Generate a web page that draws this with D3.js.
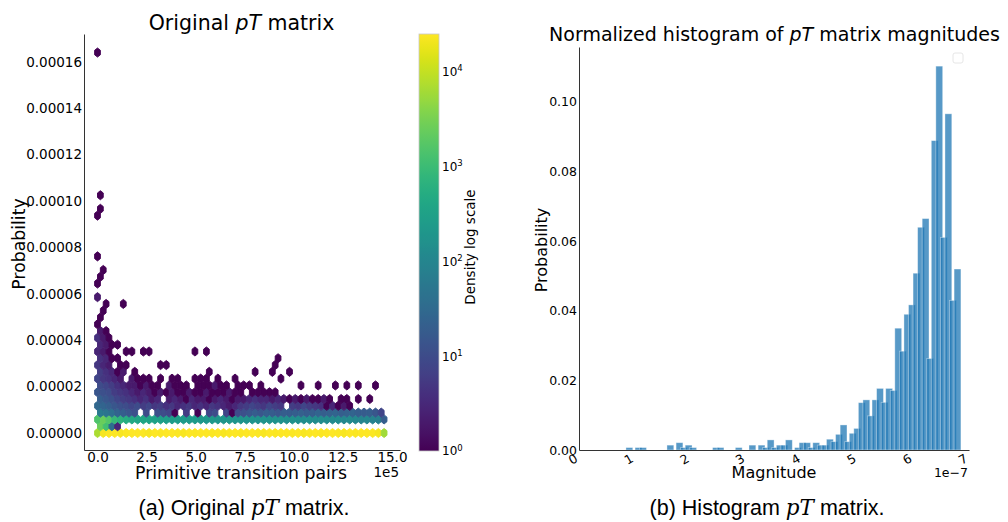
<!DOCTYPE html>
<html>
<head>
<meta charset="utf-8">
<script src="https://cdn.jsdelivr.net/npm/d3@7"></script>
<style>
  body { margin: 0; background: #fff; }
  svg text { font-family: "DejaVu Sans", sans-serif; fill: #000; }
  .cap { font-family: "Liberation Sans", Arial, sans-serif; }
  .capmath { font-family: "DejaVu Serif", "Liberation Serif", serif; font-style: italic; }
</style>
</head>
<body>
<svg id="fig" width="1008" height="522"></svg>
<script>
// ---------- (a) hexbin of transition-pair probabilities ----------
const hexGridX = 50;            // hexagons across
const hexGridY = 28;            // hexagon rows (per lattice)
const hexXMax = 1.46e6;         // largest transition-pair index
const hexYMax = 0.000164;       // largest probability
const colorMax = 25000;         // top of the density colour bar

// Counts for the lower hex rows; row k alternates between the two hex lattices
const hexRow0 = [7000, 22000, 24000, 25000, 23000, 24000, 25000, 26000, 24000, 23000,
  25000, 24000, 26000, 25000, 24000, 23000, 25000, 24000, 25000, 26000,
  24000, 25000, 23000, 24000, 25000, 24000, 26000, 25000, 24000, 23000,
  25000, 24000, 25000, 26000, 24000, 25000, 23000, 24000, 25000, 24000,
  26000, 25000, 24000, 23000, 25000, 24000, 25000, 26000, 24000, 22000, 6000];
const hexRow1 = [2500, 1200, 40, 3];
const hexRow2 = [1500, 2500, 1600, 900, 700, 550, 450, 400, 380, 350,
  320, 300, 280, 260, 270, 250, 240, 250, 230, 220,
  230, 210, 200, 210, 190, 200, 180, 190, 170, 180,
  170, 160, 170, 150, 160, 150, 140, 150, 130, 140,
  130, 120, 130, 110, 120, 110, 100, 110, 90, 80, 20];
const hexRow3 = [60, 50, 40, 25, 20, 15, 12, 0, 10, 0,
  12, 10, 8, 1, 0, 6, 0, 1, 0, 8,
  10, 0, 8, 1, 10, 12, 15, 18, 15, 20,
  18, 15, 20, 18, 20, 22, 18, 20, 25, 20,
  22, 25, 20, 22, 25, 20, 18, 20, 15, 8];
const hexRow4 = [30, 25, 20, 15, 12, 10, 8, 10, 6, 8,
  5, 6, 4, 5, 3, 4, 5, 3, 4, 3,
  5, 4, 3, 2, 3, 5, 6, 8, 6, 5,
  8, 6, 5, 0, 6, 5, 8, 6, 5, 4,
  1, 3, 1, 2, 1];
const hexRow5 = [20, 15, 12, 8, 6, 5, 4, 3, 4, 2,
  3, 0, 2, 3, 2, 1, 3, 2, 2, 1,
  2, 3, 2, 1, 2, 2, 3, 4, 3, 3,
  2, 3, 2, 1, 2, 1, 2, 1, 1, 2,
  1, 0, 1, 1, 0, 1, 0, 1];
const hexRow6 = [15, 12, 10, 6, 5, 4, 3, 2, 3, 2,
  1, 2, 1, 2, 1, 1, 2, 1, 1, 2,
  1, 1, 1, 2, 1, 1, 0, 1, 1, 1,
  1, 1];
const hexRow7 = [10, 8, 6, 4, 3, 2, 2, 1, 2, 1,
  1, 0, 2, 1, 1, 1, 0, 1, 1, 1,
  2, 1, 1, 0, 1, 1, 1, 0, 1, 0,
  0, 0, 0, 0, 0, 1, 0, 0, 1, 0,
  0, 1, 0, 1, 0, 1, 0, 0, 1];
const hexDenseRows = [hexRow0, hexRow1, hexRow2, hexRow3, hexRow4, hexRow5, hexRow6, hexRow7];

// Sparse upper cells: [row k, column i, count]
const hexSparseCells = [
  [8,0,8],[8,1,5],[8,2,4],[8,3,3],[8,4,2],[8,6,2],[8,7,1],[8,8,1],[8,9,1],[8,11,1],[8,13,1],
  [8,14,1],[8,17,1],[8,18,1],[8,19,1],[8,21,1],[8,24,1],[8,32,1],
  [9,0,6],[9,1,4],[9,2,3],[9,3,1],[9,4,2],[9,6,1],[9,19,1],[9,27,1],[9,30,1],[9,33,1],
  [10,0,5],[10,1,3],[10,2,2],[10,4,1],[10,5,1],[10,11,1],[10,12,1],[10,31,1],
  [11,0,4],[11,1,3],[11,2,1],[11,3,1],[11,31,1],
  [12,0,3],[12,1,2],[12,2,1],[12,5,1],[12,6,1],[12,8,1],[12,9,1],[12,17,1],[12,19,1],
  [13,0,3],[13,1,2],[13,2,1],[13,3,1],
  [14,0,4],[14,1,2],[14,2,1],
  [15,0,2],[15,1,1],
  [16,0,1],[17,0,1],[18,1,1],[19,1,1],[19,4,1],[20,0,2],
  [22,0,1],[23,0,1],[24,1,1],[26,0,1],[32,0,1],[33,0,1],[35,0,1],[56,0,1]
];

const hexXTicks = [0, 2.5e5, 5e5, 7.5e5, 10e5, 12.5e5, 15e5];
const hexXTickLabels = ["0.0", "2.5", "5.0", "7.5", "10.0", "12.5", "15.0"];
const hexYTicks = [0, 2e-5, 4e-5, 6e-5, 8e-5, 1e-4, 1.2e-4, 1.4e-4, 1.6e-4];
const hexYTickLabels = ["0.00000", "0.00002", "0.00004", "0.00006", "0.00008",
  "0.00010", "0.00012", "0.00014", "0.00016"];
const colorTicks = [1, 10, 100, 1000, 10000];
const colorTickExponents = ["0", "1", "2", "3", "4"];

// ---------- (b) normalized histogram of magnitudes (units of 1e-7) ----------
const magnitudeBinStart = 0.904;
const magnitudeBinWidth = 0.0818;
const magnitudeProbabilities = [
  0.0007, 0, 0.0007, 0.0007, 0, 0, 0, 0, 0, 0.0014,
  0, 0.0021, 0.0007, 0.0014, 0.0007, 0, 0, 0, 0, 0.0007,
  0.0007, 0, 0, 0, 0.0007, 0, 0, 0.0014, 0, 0.0014,
  0.0007, 0.0029, 0.0007, 0.0014, 0.0014, 0.0029, 0, 0.0007, 0.0021, 0.0021,
  0.0007, 0.0021, 0.0014, 0.0014, 0.0031, 0.0024, 0.0045, 0.0072, 0.0024, 0.0048,
  0.0062, 0.0136, 0.0144, 0.0098, 0.0144, 0.0177, 0.0137, 0.0177, 0.0171, 0.0350,
  0.0284, 0.0390, 0.0417, 0.0508, 0.0640, 0.0665, 0.0263, 0.0889, 0.1103, 0.0611,
  0.0966, 0.0430, 0.0520
];
const histXTicks = [0, 1, 2, 3, 4, 5, 6, 7];
const histYTicks = [0, 0.02, 0.04, 0.06, 0.08, 0.10];
const histYTickLabels = ["0.00", "0.02", "0.04", "0.06", "0.08", "0.10"];

const svg = d3.select("#fig");
const axisColor = "#333";

// ================= panel (a) =================
const xL = d3.scaleLinear().domain([-0.688e5, 15.41e5]).range([84, 400]);
const yL = d3.scaleLinear().domain([-7.33e-6, 1.72e-4]).range([450, 34]);
const color = d3.scaleSequentialLog(d3.interpolateViridis).domain([1, colorMax]).clamp(true);

const sx = hexXMax / hexGridX;
const sy = hexYMax / hexGridY;
const hexUnit = [[.5, -.5], [.5, .5], [0, 1], [-.5, .5], [-.5, -.5], [0, -1]];

const cells = [];
hexDenseRows.forEach((row, k) => row.forEach((c, i) => { if (c > 0) cells.push([k, i, c]); }));
hexSparseCells.forEach(d => cells.push(d));

function hexPath(k, i) {
  const cx = (k % 2 ? i + 0.5 : i) * sx;
  const cy = k * sy / 2;
  const pts = hexUnit.map(([a, b]) => [xL(cx + a * sx), yL(cy + b * sy / 3)]);
  return "M" + pts.map(p => p[0].toFixed(2) + "," + p[1].toFixed(2)).join("L") + "Z";
}

svg.append("g").selectAll("path").data(cells).join("path")
  .attr("d", d => hexPath(d[0], d[1]))
  .attr("fill", d => color(d[2]))
  .attr("stroke", d => color(d[2]))
  .attr("stroke-width", 0.95)
  .attr("stroke-linejoin", "round");

const gxL = svg.append("g").attr("transform", "translate(0,450)")
  .call(d3.axisBottom(xL).tickValues(hexXTicks).tickFormat((d, i) => hexXTickLabels[i])
    .tickSize(0).tickSizeOuter(0).tickPadding(2));
const gyL = svg.append("g").attr("transform", "translate(84,0)")
  .call(d3.axisLeft(yL).tickValues(hexYTicks).tickFormat((d, i) => hexYTickLabels[i])
    .tickSize(0).tickSizeOuter(0).tickPadding(2));
[gxL, gyL].forEach(g => {
  g.select(".domain").attr("stroke", axisColor).attr("stroke-width", 1);
  g.selectAll("text").attr("font-size", 13.5).attr("font-family", "DejaVu Sans").attr("fill", "#000");
});

svg.append("text").attr("x", 241.5).attr("y", 30).attr("text-anchor", "middle")
  .attr("font-size", 20.5)
  .call(t => { t.append("tspan").text("Original ");
               t.append("tspan").attr("font-style", "italic").text("pT");
               t.append("tspan").text(" matrix"); });
svg.append("text").attr("x", 241).attr("y", 479).attr("text-anchor", "middle")
  .attr("font-size", 17.3).text("Primitive transition pairs");
svg.append("text").attr("x", 399).attr("y", 477).attr("text-anchor", "end")
  .attr("font-size", 13.5).text("1e5");
svg.append("text").attr("transform", "translate(24.5,244) rotate(-90)").attr("text-anchor", "middle")
  .attr("font-size", 17.3).text("Probability");

// colour bar
const cbX = 419, cbW = 20;
const yC = d3.scaleLog().domain([1, colorMax]).range([451, 34]);
const grad = svg.append("defs").append("linearGradient").attr("id", "viridisBar")
  .attr("x1", 0).attr("y1", 1).attr("x2", 0).attr("y2", 0);
d3.range(0, 1.0001, 0.02).forEach(t => grad.append("stop")
  .attr("offset", t).attr("stop-color", d3.interpolateViridis(t)));
svg.append("rect").attr("x", cbX).attr("y", yC(colorMax)).attr("width", cbW)
  .attr("height", yC(1) - yC(colorMax)).attr("fill", "url(#viridisBar)")
  .attr("stroke", "#c8c8c8").attr("stroke-width", 0.8);
const gC = svg.append("g").attr("transform", `translate(${cbX + cbW},0)`)
  .call(d3.axisRight(yC).tickValues(colorTicks).tickSize(0).tickPadding(3));
gC.select(".domain").remove();
gC.selectAll(".tick text").each(function (d, i) {
  const t = d3.select(this).text(null).attr("font-size", 12).attr("fill", "#000")
    .attr("font-family", "DejaVu Sans");
  t.append("tspan").text("10");
  t.append("tspan").attr("font-size", 8.5).attr("dy", "-0.55em").text(colorTickExponents[i]);
});
svg.append("text").attr("transform", "translate(475,247) rotate(-90)").attr("text-anchor", "middle")
  .attr("font-size", 13.5).text("Density log scale");

// ================= panel (b) =================
const xR = d3.scaleLinear().domain([0, 7]).range([579, 969]);
const yR = d3.scaleLinear().domain([0, 0.1158]).range([450, 47]);

const bars = magnitudeProbabilities.map((p, i) => ({ c: magnitudeBinStart + i * magnitudeBinWidth, p }))
  .filter(d => d.p > 0);
svg.append("g").selectAll("rect").data(bars).join("rect")
  .attr("x", d => xR(d.c - 0.75 * magnitudeBinWidth))
  .attr("width", d => xR(d.c + 0.75 * magnitudeBinWidth) - xR(d.c - 0.75 * magnitudeBinWidth))
  .attr("y", d => yR(d.p))
  .attr("height", d => yR(0) - yR(d.p))
  .attr("fill", "#1f77b4").attr("fill-opacity", 0.75)
  .attr("stroke", "#ffffff").attr("stroke-opacity", 0.45).attr("stroke-width", 0.8);

const gxR = svg.append("g").attr("transform", "translate(0,450)")
  .call(d3.axisBottom(xR).tickValues(histXTicks).tickFormat(d3.format("d"))
    .tickSize(0).tickSizeOuter(0));
gxR.selectAll(".tick text")
  .attr("y", null).attr("dy", null)
  .attr("text-anchor", "middle").attr("dominant-baseline", "central")
  .attr("transform", "translate(-6.6,9) rotate(-30)")
  .attr("font-size", 12.5).attr("font-family", "DejaVu Sans").attr("fill", "#000");
const gyR = svg.append("g").attr("transform", "translate(579,0)")
  .call(d3.axisLeft(yR).tickValues(histYTicks).tickFormat((d, i) => histYTickLabels[i])
    .tickSize(0).tickSizeOuter(0).tickPadding(2));
gyR.selectAll("text").attr("font-size", 12.5).attr("font-family", "DejaVu Sans").attr("fill", "#000");
[gxR, gyR].forEach(g => g.select(".domain").attr("stroke", axisColor).attr("stroke-width", 1));

svg.append("text").attr("x", 774.5).attr("y", 41).attr("text-anchor", "middle")
  .attr("font-size", 19)
  .call(t => { t.append("tspan").text("Normalized histogram of ");
               t.append("tspan").attr("font-style", "italic").text("pT");
               t.append("tspan").text(" matrix magnitudes"); });
svg.append("text").attr("x", 774).attr("y", 478).attr("text-anchor", "middle")
  .attr("font-size", 16).text("Magnitude");
svg.append("text").attr("x", 968).attr("y", 477).attr("text-anchor", "end")
  .attr("font-size", 12.5).text("1e\u22127");
svg.append("text").attr("transform", "translate(547,250) rotate(-90)").attr("text-anchor", "middle")
  .attr("font-size", 16).text("Probability");

// empty legend frame
svg.append("rect").attr("x", 953).attr("y", 53).attr("width", 10).attr("height", 10)
  .attr("rx", 2).attr("fill", "#fff").attr("stroke", "#e0e0e0").attr("stroke-width", 0.8);

// ================= captions =================
function caption(x, label, rest) {
  const t = svg.append("text").attr("x", x).attr("y", 515).attr("text-anchor", "middle")
    .attr("class", "cap").attr("font-size", 21.5);
  t.append("tspan").attr("class", "cap").text(label + " ");
  t.append("tspan").attr("class", "capmath").text("pT");
  t.append("tspan").attr("class", "cap").text(rest);
}
caption(244, "(a) Original", " matrix.");
caption(767, "(b) Histogram", " matrix.");
</script>
</body>
</html>
